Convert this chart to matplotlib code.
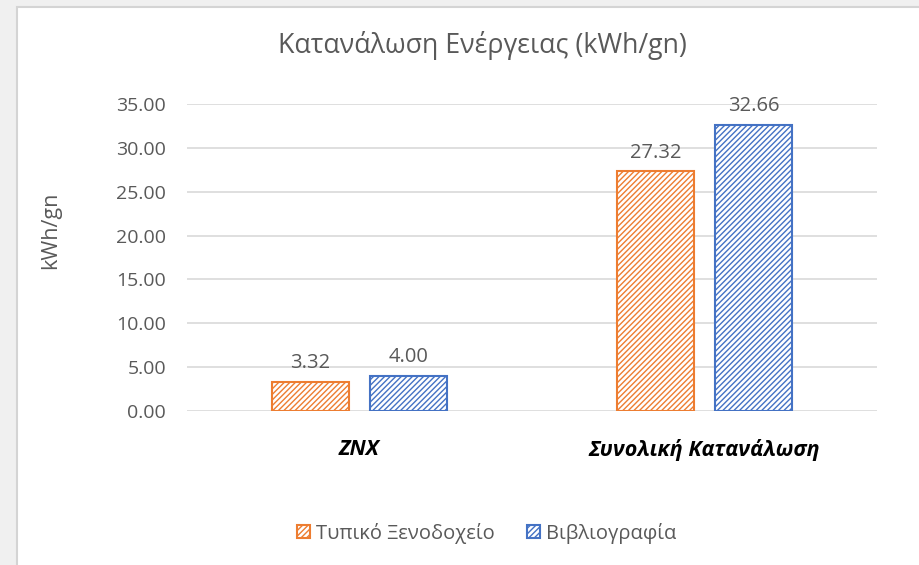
import matplotlib
matplotlib.use('Agg')
import matplotlib.pyplot as plt
from matplotlib.patches import Rectangle
import numpy as np

# δεδομένα
katigories = ['ZNX', 'Συνολική Κατανάλωση']
seires = ['Τυπικό Ξενοδοχείο', 'Βιβλιογραφία']
typiko = [3.32, 27.32]
vivliografia = [4.00, 32.66]
y_ticks = [0, 5, 10, 15, 20, 25, 30, 35]

xrwmata = ['#ED7D31', '#4472C4']
gkri = '#595959'

plt.rcParams['font.family'] = ['Open Sans', 'DejaVu Sans']
plt.rcParams['hatch.linewidth'] = 1.0

fig = plt.figure(figsize=(9.2, 5.65), dpi=100)
fig.patch.set_facecolor('#f0f0f0')
# λευκό πλαίσιο του γραφήματος
fig.patches.append(Rectangle((17/920, -0.02), 1, (565-7)/565 + 0.02, transform=fig.transFigure,
                             facecolor='white', edgecolor='#d4d4d4', linewidth=1.5, zorder=-5))

ax = fig.add_axes([187/920, 154/565, 690/920, 307/565])
ax.set_facecolor('none')

x = np.arange(len(katigories))
platos = 0.226
metatopisi = 0.142

for i, (times, onoma) in enumerate([(typiko, seires[0]), (vivliografia, seires[1])]):
    thesi = x - metatopisi if i == 0 else x + metatopisi
    bars = ax.bar(thesi, times, platos, facecolor='white', edgecolor=xrwmata[i],
                  hatch='//////', linewidth=1.5, label=onoma, zorder=3)
    for b, v in zip(bars, times):
        ax.text(b.get_x() + b.get_width()/2, v + 1.0, f'{v:.2f}', ha='center', va='bottom',
                fontsize=14.5, color=gkri)

ax.set_xlim(-0.5, 1.5)
ax.set_ylim(0, 35)
ax.set_yticks(y_ticks)
ax.set_yticklabels([f'{t:.2f}' for t in y_ticks], fontsize=14, color=gkri)
ax.yaxis.grid(True, color='#d9d9d9', linewidth=1.2, zorder=0)
ax.set_axisbelow(True)
ax.set_xticks(x)
ax.set_xticklabels(katigories, fontsize=15.5, fontweight='bold', fontstyle='italic', color='black')
ax.tick_params(axis='both', length=0)
ax.tick_params(axis='y', pad=15)
ax.tick_params(axis='x', pad=20)
for s in ax.spines.values():
    s.set_visible(False)

ax.set_ylabel('kWh/gn', fontsize=15.5, color=gkri)
ax.yaxis.set_label_coords((61 - 187)/690, (411 - 230)/307)
fig.text(482/920, 1 - 45/565, 'Κατανάλωση Ενέργειας (kWh/gn)', ha='center', va='center',
         fontsize=19.3, color=gkri)

leg = fig.legend(loc='center', bbox_to_anchor=(487/920, 1 - 533/565), ncol=2, frameon=False,
                 fontsize=14.5, handlelength=0.65, handleheight=0.65, columnspacing=1.6,
                 handletextpad=0.3)
for t in leg.get_texts():
    t.set_color(gkri)

fig.savefig('out.png', dpi=100, facecolor=fig.get_facecolor())
